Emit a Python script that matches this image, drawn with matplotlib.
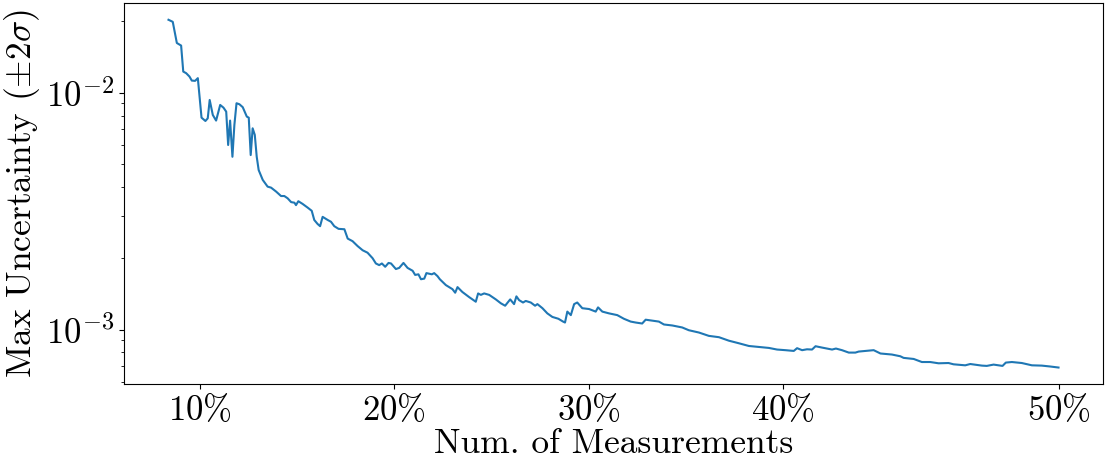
import numpy as np
import matplotlib
matplotlib.use("Agg")
import matplotlib.pyplot as plt

plt.rcParams['font.family'] = 'serif'
plt.rcParams['font.serif'] = ['cmr10']
plt.rcParams['mathtext.fontset'] = 'cm'
plt.rcParams['axes.formatter.use_mathtext'] = True
plt.rcParams['axes.unicode_minus'] = False

# position along the measurement axis
num_meas = [8.39, 8.61, 8.82, 9.04, 9.15, 9.30, 9.47, 9.59, 9.76, 9.90,
            10.09, 10.29, 10.41, 10.51, 10.67, 10.84, 11.05, 11.22, 11.36, 11.46,
            11.56, 11.68, 11.78, 11.89, 12.04, 12.21, 12.42, 12.52, 12.62, 12.72,
            12.83, 12.93, 13.03, 13.24, 13.49, 13.67, 13.93, 14.18, 14.35, 14.52,
            14.70, 14.87, 14.95, 15.07, 15.29, 15.55, 15.76, 15.89, 16.06, 16.19,
            16.32, 16.58, 16.75, 16.92, 17.14, 17.44, 17.61, 17.86, 18.12, 18.38,
            18.63, 18.89, 19.06, 19.23, 19.37, 19.54, 19.71, 19.84, 20.09, 20.26,
            20.48, 20.69, 20.95, 21.08, 21.25, 21.38, 21.55, 21.66, 21.94, 22.06,
            22.23, 22.35, 22.66, 23.00, 23.14, 23.26, 23.51, 23.86, 24.20, 24.32,
            24.46, 24.63, 24.89, 25.23, 25.49, 25.71, 25.97, 26.17, 26.29, 26.43,
            26.63, 26.77, 27.03, 27.25, 27.37, 27.63, 27.88, 28.14, 28.45, 28.69,
            28.79, 28.91, 29.09, 29.26, 29.42, 29.68, 30.03, 30.37, 30.49, 30.71,
            31.05, 31.48, 31.82, 32.17, 32.43, 32.76, 32.94, 33.28, 33.62, 33.88,
            34.31, 34.82, 35.16, 35.68, 36.19, 36.71, 37.22, 37.48, 37.73, 38.25,
            38.76, 39.28, 39.70, 40.13, 40.56, 40.73, 40.99, 41.24, 41.50, 41.68,
            42.01, 42.53, 42.73, 43.04, 43.39, 43.73, 43.90, 44.24, 44.67, 45.02,
            45.61, 46.04, 46.21, 46.73, 47.15, 47.58, 48.01, 48.52, 48.78, 49.38,
            49.64, 50.24, 50.49, 50.84, 51.30, 51.47, 51.78, 52.29, 52.81, 53.32,
            53.75, 54.18]

max_unc = [0.0203, 0.0199, 0.0162, 0.0158, 0.01227, 0.01208, 0.01169, 0.01124, 0.01121, 0.01151,
           0.00784, 0.00759, 0.00779, 0.00931, 0.00805, 0.00762, 0.00887, 0.00864, 0.00831, 0.00601,
           0.00762, 0.00536, 0.00730, 0.00902, 0.00893, 0.00868, 0.00792, 0.00784, 0.00545, 0.00707,
           0.00663, 0.00536, 0.00471, 0.00428, 0.00401, 0.00397, 0.00382, 0.00366, 0.00366, 0.00358,
           0.00345, 0.00343, 0.00335, 0.00348, 0.00339, 0.00327, 0.00317, 0.00290, 0.00279, 0.00273,
           0.00299, 0.00290, 0.00285, 0.00273, 0.00266, 0.00265, 0.00242, 0.00236, 0.00225, 0.00216,
           0.00211, 0.00200, 0.00190, 0.00187, 0.00190, 0.00184, 0.00191, 0.00190, 0.00180, 0.00182,
           0.00191, 0.00182, 0.00177, 0.00170, 0.00171, 0.00163, 0.00164, 0.00173, 0.00171, 0.00173,
           0.00168, 0.00163, 0.00154, 0.00148, 0.00143, 0.00151, 0.00144, 0.00137, 0.00131, 0.00142,
           0.00140, 0.00142, 0.00140, 0.00134, 0.00129, 0.00126, 0.00134, 0.00128, 0.00138, 0.00133,
           0.00130, 0.00132, 0.00130, 0.00126, 0.00128, 0.00123, 0.00117, 0.00113, 0.00111, 0.00108,
           0.00107, 0.00119, 0.00115, 0.00128, 0.00130, 0.00123, 0.00122, 0.00119, 0.00124, 0.00119,
           0.00117, 0.00115, 0.00111, 0.00108, 0.00107, 0.00106, 0.00110, 0.00109, 0.00108, 0.00105,
           0.00104, 0.00102, 0.000993, 0.000971, 0.000940, 0.000928, 0.000897, 0.000886, 0.000875, 0.000852,
           0.000844, 0.000836, 0.000823, 0.000818, 0.000812, 0.000834, 0.000818, 0.000825, 0.000823, 0.000850,
           0.000839, 0.000823, 0.000831, 0.000818, 0.000799, 0.000799, 0.000807, 0.000812, 0.000818, 0.000792,
           0.000784, 0.000771, 0.000759, 0.000751, 0.000729, 0.000729, 0.000720, 0.000722, 0.000713, 0.000706,
           0.000715, 0.000704, 0.000702, 0.000711, 0.000702, 0.000725, 0.000729, 0.000722, 0.000706, 0.000704,
           0.000698, 0.000691]

xtick_pos = [10, 20, 30, 40, 54.18]
xtick_labels = [r'10\%', r'20\%', r'30\%', r'40\%', r'50\%']

fig = plt.figure(figsize=(11.05, 4.66), dpi=100)
ax = fig.add_axes([0.1122, 0.1753, 0.886, 0.8183])

ax.plot(num_meas, max_unc, color='tab:blue', linewidth=1.5)
ax.set_yscale('log')
ax.set_ylim(5.87e-4, 2.39e-2)

ax.set_xticks(xtick_pos)
ax.set_xticklabels(['$' + t + '$' for t in xtick_labels])

ax.set_xlabel('Num. of Measurements', fontsize=25.5, labelpad=1)
ax.set_ylabel(r'Max Uncertainty ($\pm 2\sigma$)', fontsize=25.5, labelpad=3)
ax.tick_params(axis='both', which='major', labelsize=25)

fig.savefig('out.png', dpi=100)
